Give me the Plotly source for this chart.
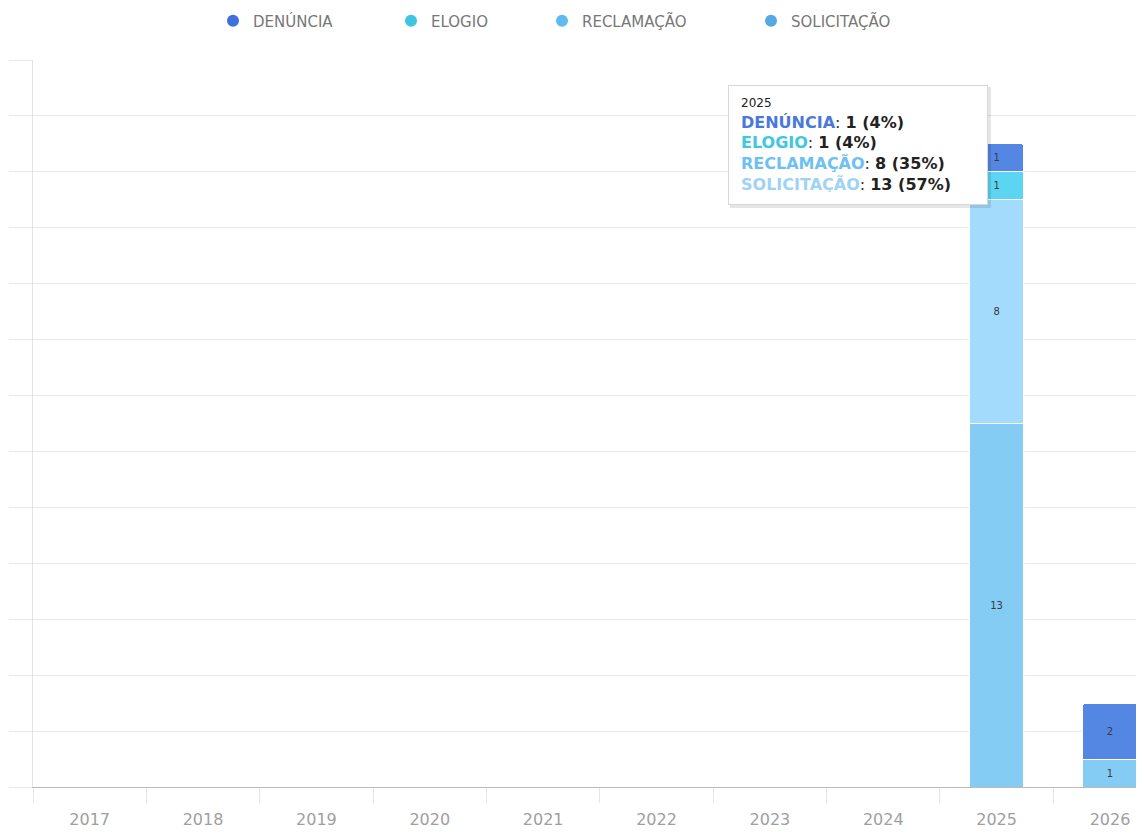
import plotly.graph_objects as go

years = ["2017", "2018", "2019", "2020", "2021", "2022", "2023", "2024", "2025", "2026"]
series_names = ["DENÚNCIA", "ELOGIO", "RECLAMAÇÃO", "SOLICITAÇÃO"]
denuncia = [None, None, None, None, None, None, None, None, 1, 2]
elogio = [None, None, None, None, None, None, None, None, 1, None]
reclamacao = [None, None, None, None, None, None, None, None, 8, None]
solicitacao = [None, None, None, None, None, None, None, None, 13, 1]
tooltip_year = "2025"

bar_colors = ["#5486e4", "#5cd5f2", "#a3dbfd", "#85ccf4"]
legend_colors = ["#3f6fdd", "#3ec5df", "#60baf0", "#55a9e3"]
tip_colors = ["#4a78dc", "#3fc8df", "#6fc0f2", "#9fd3f5"]
legend_circle_x = [233, 411, 562, 771]  # screen px of legend symbols

OFF = 8  # page body margin
W, H = 1136, 828
L, R, T, B = 25, 0, 52, 49
PW, PH = W - L - R, H - T - B

values = [denuncia, elogio, reclamacao, solicitacao]
fig = go.Figure()

# stack: Solicitação at bottom, Denúncia at top
for name, vals, col in reversed(list(zip(series_names, values, bar_colors))):
    fig.add_trace(go.Bar(
        x=years, y=vals, name=name, marker=dict(color=col, line=dict(color="white", width=1)),
        text=[("" if v is None else str(v)) for v in vals], textposition="inside",
        insidetextanchor="middle", textangle=0,
        textfont=dict(size=10, color="#3a3a3a", family="DejaVu Sans"),
        showlegend=False, hoverinfo="skip",
    ))

def px(x):
    return (x - OFF - L) / PW
def py(y):
    return 1 - (y - OFF - T) / PH

legend_layouts = {}
for i, (name, col, cx) in enumerate(zip(series_names, legend_colors, legend_circle_x)):
    lname = "legend" if i == 0 else f"legend{i + 1}"
    fig.add_trace(go.Scatter(
        x=[None], y=[None], mode="markers", name=name, legend=lname,
        marker=dict(symbol="circle", size=12, color=col), showlegend=True,
    ))
    legend_layouts[lname] = dict(
        orientation="h", x=px(cx - 20), xanchor="left", y=py(21), yanchor="middle",
        font=dict(size=15, color="#777"), itemsizing="constant", bgcolor="rgba(0,0,0,0)",
    )

# tooltip
idx = years.index(tooltip_year)
tot = sum((v[idx] or 0) for v in values)
lines = [f"<span style='font-size:12px;color:#222'>{tooltip_year}</span>"]
for name, vals, col in zip(series_names, values, tip_colors):
    v = vals[idx] or 0
    pct = round(v / tot * 100)
    lines.append(f"<b><span style='color:{col}'>{name}</span></b>"
                 f"<span style='color:#333'>: </span><b>{v} ({pct}%)</b>")
tip_text = "<br>".join(lines)

bx0, by0, bx1, by1 = 728, 85, 988, 205
pad = 12
fig.add_shape(type="rect", xref="paper", yref="paper",
              x0=px(bx0 + 2), x1=px(bx1 + 3), y0=py(by1 + 3), y1=py(by0 + 2),
              fillcolor="rgba(0,0,0,0.10)", line=dict(width=0), layer="above")
fig.add_annotation(
    xref="paper", yref="paper", x=px(bx0), y=py(by0), xanchor="left", yanchor="top",
    text=tip_text, showarrow=False, align="left", valign="middle",
    bgcolor="white", bordercolor="#d8d8d8", borderwidth=1, borderpad=pad,
    width=bx1 - bx0 - 2 - 2 * pad, height=by1 - by0 - 2 - 2 * pad,
    font=dict(size=16, color="#222", family="DejaVu Sans"),
)

fig.update_layout(
    width=W, height=H, barmode="stack", bargap=0.52, barcornerradius=3,
    margin=dict(l=L, r=R, t=T, b=B, autoexpand=False),
    paper_bgcolor="white", plot_bgcolor="white",
    font=dict(family="DejaVu Sans", color="#888"),
    xaxis=dict(range=[-0.5, 9.3], showgrid=False, showline=True, linecolor="#bbbbbb",
               ticks="outside", tickson="boundaries", ticklen=15, tickcolor="#e6e6e6",
               ticklabelstandoff=18,
               tickfont=dict(size=16, color="#a0a0a0"), fixedrange=True),
    yaxis=dict(range=[0, 26], dtick=2, showgrid=True, gridcolor="#e8e8e8",
               showline=True, linecolor="#e3e3e3", zeroline=False,
               ticks="outside", ticklen=23, tickcolor="#e8e8e8",
               showticklabels=False, fixedrange=True),
    **legend_layouts,
)

fig.write_html("out.html")
